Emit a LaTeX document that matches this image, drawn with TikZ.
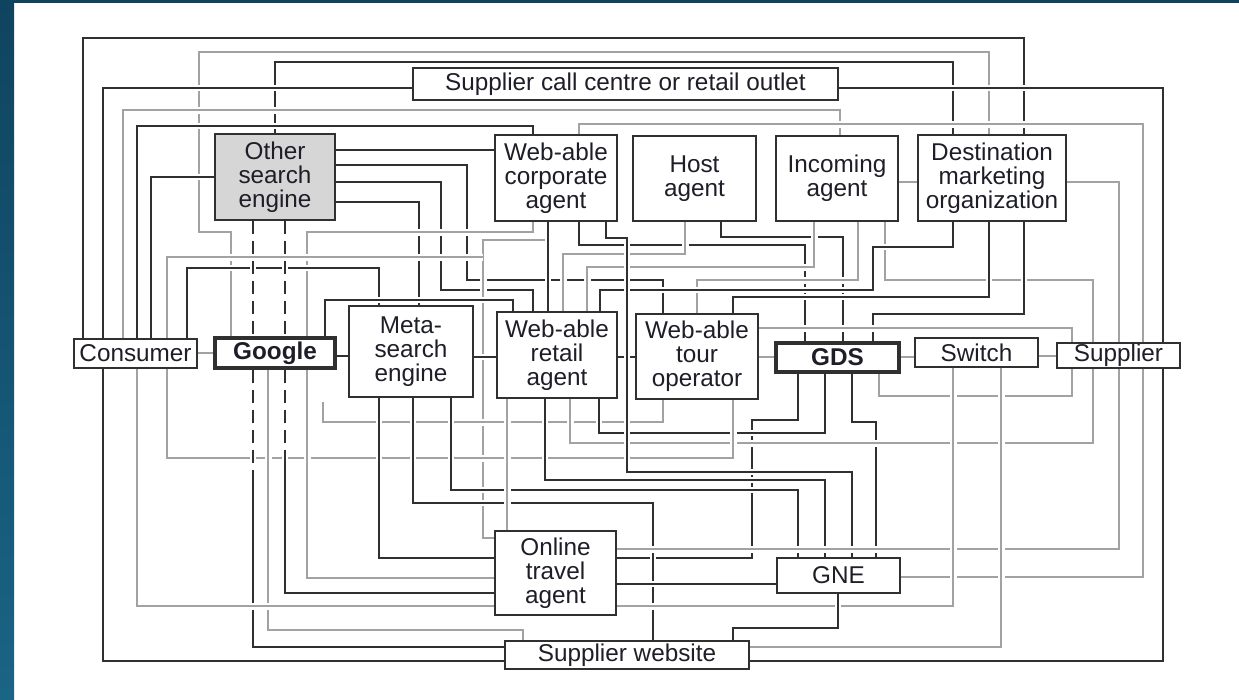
\documentclass[tikz,border=0pt]{standalone}
\usepackage{fontspec}
\setmainfont{Liberation Sans}
\usetikzlibrary{calc}
\definecolor{bgtop}{HTML}{0F4460}
\definecolor{bgbot}{HTML}{1A6485}
\definecolor{lk}{HTML}{303030}
\definecolor{lg}{HTML}{A2A2A2}
\definecolor{ink}{HTML}{1E1E28}
\definecolor{osefill}{HTML}{D6D6D6}
\pgfdeclarelayer{back}
\pgfdeclarelayer{lines}
\pgfsetlayers{back,lines,main}
\begin{document}
\begin{tikzpicture}[x=1pt,y=-1pt,
  box/.style={draw=lk, line width=1.8pt, fill=white, inner sep=1pt, align=center, text=ink,
    font=\fontsize{24.3}{24}\selectfont},
  thick box/.style={box, line width=3.6pt},
  kk/.style={draw=lk, line width=2pt, preaction={draw=white, solid, line width=6.5pt}},
  gg/.style={draw=lg, line width=2.6pt, preaction={draw=white, solid, line width=7pt}},
  dsh/.style={dash pattern=on 13pt off 7pt}]
\useasboundingbox (0,0) rectangle (1239,699);
\begin{pgfonlayer}{back}
\fill[white] (0,0) rectangle (1239,699);
\shade[top color=bgtop, bottom color=bgbot] (0,0) rectangle (14,699);
\fill[bgtop] (0,0) rectangle (1239,3);
\end{pgfonlayer}

% ---------- nodes ----------
\node[box, minimum width=425pt, minimum height=32pt] (call) at (625.5,84) {Supplier call centre or retail outlet};
\node[box, fill=osefill, minimum width=120pt, minimum height=86pt] (ose) at (275,177) {Other\\search\\engine};
\node[box, minimum width=122pt, minimum height=86pt] (corp) at (556,178) {Web-able\\corporate\\agent};
\node[box, minimum width=123pt, minimum height=85pt] (host) at (694.5,178.5) {Host\\agent};
\node[box, minimum width=122pt, minimum height=85pt] (inc) at (837,178.5) {Incoming\\agent};
\node[box, minimum width=148pt, minimum height=86pt] (dmo) at (992,178) {Destination\\marketing\\organization};
\node[box, minimum width=123pt, minimum height=29pt] (cons) at (135.5,353.5) {Consumer};
\node[thick box, minimum width=120pt, minimum height=30pt, font=\fontsize{24.3}{24}\selectfont\bfseries] (goo) at (275,353) {Google};
\node[box, minimum width=124pt, minimum height=91pt] (meta) at (411,351.5) {Meta-\\search\\engine};
\node[box, minimum width=120pt, minimum height=86pt] (ret) at (557,355) {Web-able\\retail\\agent};
\node[box, minimum width=122pt, minimum height=85pt] (tour) at (697,356.5) {Web-able\\tour\\operator};
\node[thick box, minimum width=123pt, minimum height=29pt, font=\fontsize{24.3}{24}\selectfont\bfseries] (gds) at (837.5,357.5) {GDS};
\node[box, minimum width=123pt, minimum height=29pt] (swi) at (976.5,352.5) {Switch};
\node[box, minimum width=123pt, minimum height=25pt] (sup) at (1118.5,355.5) {Supplier};
\node[box, minimum width=121pt, minimum height=84pt] (ota) at (555.5,573) {Online\\travel\\agent};
\node[box, minimum width=123pt, minimum height=35pt] (gne) at (838.5,575.5) {GNE};
\node[box, minimum width=244pt, minimum height=28pt] (sw) at (627,655) {Supplier website};

\coordinate (gfree) at (323,402);
\coordinate (d285) at (285,462);
\coordinate (d253) at (253,470);
\coordinate (loopend) at (483,257);

% ---------- connectors ----------
\begin{pgfonlayer}{lines}
% top band
\draw[kk] (cons.north -| 83,0) |- (1024,38) -- (dmo.north -| 1024,0);
\draw[gg] (goo.north -| 231,0) |- (199,232) |- (989,52) -- (dmo.north -| 989,0);
\draw[kk] (ose.north -| 275,0) |- (953,62) -- (dmo.north -| 953,0);
\draw[kk] (call.west |- 0,88) -| (cons.north -| 103,0);
\draw[kk] (call.east |- 0,88) -| (sup.north -| 1163,0);
\draw[gg] (cons.north -| 123,0) |- (840,110) -- (inc.north -| 840,0);
\draw[gg] (corp.north -| 579,0) |- (1143,124) -- (sup.north -| 1143,0);
\draw[kk] (cons.north -| 137,0) |- (533,126) -- (corp.north -| 533,0);
\draw[kk] (ose.west |- 0,177) -| (cons.north -| 151,0);
\draw[kk] (ose.east |- 0,150) -- (corp.west |- 0,150);
\draw[kk] (ose.east |- 0,165) -| (467,280) -| (tour.north -| 663,0);
\draw[kk] (ose.east |- 0,182) -| (441,290) -| (ret.north -| 533,0);
\draw[kk] (ose.east |- 0,202) -| (meta.north -| 419,0);
\draw[gg] (dmo.east |- 0,182) -| (sup.north -| 1119,0);
\draw[gg] (inc.east |- 0,182) -- (dmo.west |- 0,182);
% between top row and middle row
\draw[gg] (corp.south -| 533,0) |- (307,232) -- (goo.north -| 307,0);
\draw[gg] (corp.south -| 548,0) |- (483,240) |- (ota.west |- 0,538);
\draw[kk] (corp.south -| 548,0) -- (ret.north -| 548,0);
\draw[kk] (corp.south -| 579,0) |- (805,245) -- (gds.north -| 805,0);
\draw[kk] (host.south -| 721,0) |- (843,237) -- (gds.north -| 843,0);
\draw[gg] (host.south -| 685,0) |- (563,254) -- (ret.north -| 563,0);
\draw[gg] (inc.south -| 814,0) |- (587,267) -- (ret.north -| 587,0);
\draw[gg] (inc.south -| 858,0) |- (697,280) -- (tour.north -| 697,0);
\draw[gg] (inc.south -| 885,0) |- (1093,280) -- (sup.north -| 1093,0);
\draw[kk] (dmo.south -| 953,0) |- (873,247) |- (600,290) -- (ret.north -| 600,0);
\draw[kk] (dmo.south -| 989,0) |- (733,297) -- (tour.north -| 733,0);
\draw[kk] (dmo.south -| 1024,0) |- (873,314) -- (gds.north -| 873,0);
\draw[kk] (cons.north -| 187,0) |- (379,268) -- (meta.north -| 379,0);
\draw[kk] (goo.north -| 325,0) |- (513,300) -- (ret.north -| 513,0);
\draw[kk,dsh] (ose.south -| 253,0) -- (goo.north -| 253,0);
\draw[kk,dsh] (ose.south -| 285,0) -- (goo.north -| 285,0);
% middle row links
\draw[gg] (cons.east |- 0,353) -- (goo.west |- 0,353);
\draw[kk] (goo.east |- 0,356) -- (meta.west |- 0,356);
\draw[kk] (meta.east |- 0,357) -- (ret.west |- 0,357);
\draw[kk] (ret.east |- 0,357) -- (tour.west |- 0,357);
\draw[gg] (tour.east |- 0,357) -- (gds.west |- 0,357);
\draw[gg] (gds.east |- 0,357) -- (swi.west |- 0,357);
\draw[gg] (swi.east |- 0,356) -- (sup.west |- 0,356);
\draw[gg] (tour.east |- 0,328) -| (sup.north -| 1072,0);
% below middle row
\draw[gg] (sup.south -| 1072,0) |- (879,396) -- (gds.south -| 879,0);
\draw[gg] (tour.south -| 663,0) |- (323,422) -- (gfree);
\draw[kk] (gds.south -| 798,0) |- (752,420) |- (ota.east |- 0,558);
\draw[kk] (gds.south -| 852,0) |- (876,422) -- (gne.north -| 876,0);
\draw[kk] (ret.south -| 599,0) |- (825,433) -- (gds.south -| 825,0);
\draw[gg] (sup.south -| 1093,0) |- (570,443) -- (ret.south -| 570,0);
\draw[gg] (tour.south -| 733,0) |- (167,458) |- (loopend);
\draw[kk] (corp.south -| 606,0) |- (627,238) |- (852,472) -- (gne.north -| 852,0);
\draw[kk] (ret.south -| 545,0) |- (825,480) -- (gne.north -| 825,0);
\draw[kk] (meta.south -| 451,0) |- (798,490) -- (gne.north -| 798,0);
\draw[kk] (meta.south -| 413,0) |- (653,503) -- (sw.north -| 653,0);
\draw[kk] (meta.south -| 379,0) |- (ota.west |- 0,558);
\draw[gg] (ret.south -| 507,0) -- (ota.north -| 507,0);
\draw[gg] (goo.south -| 307,0) |- (ota.west |- 0,578);
\draw[kk,dsh] (goo.south -| 285,0) -- (d285);
\draw[kk] (d285) |- (ota.west |- 0,593);
\draw[kk,dsh] (goo.south -| 253,0) -- (d253);
\draw[kk] (d253) |- (sw.west |- 0,647);
\draw[gg] (goo.south -| 268,0) |- (523,630) -- (sw.north -| 523,0);
\draw[gg] (cons.south -| 137,0) |- (ota.west |- 0,606);
\draw[kk] (cons.south -| 103,0) |- (sw.west |- 0,661);
\draw[gg] (sup.south -| 1119,0) |- (ota.east |- 0,549);
\draw[kk] (ota.east |- 0,584) -- (gne.west |- 0,584);
\draw[gg] (sup.south -| 1143,0) |- (gne.east |- 0,577);
\draw[gg] (swi.south -| 953,0) |- (ota.east |- 0,606);
\draw[gg] (swi.south -| 1001,0) |- (sw.east |- 0,647);
\draw[kk] (sup.south -| 1163,0) |- (sw.east |- 0,661);
\draw[kk] (gne.south -| 838,0) |- (733,628) -- (sw.north -| 733,0);
\end{pgfonlayer}
\end{tikzpicture}
\end{document}
